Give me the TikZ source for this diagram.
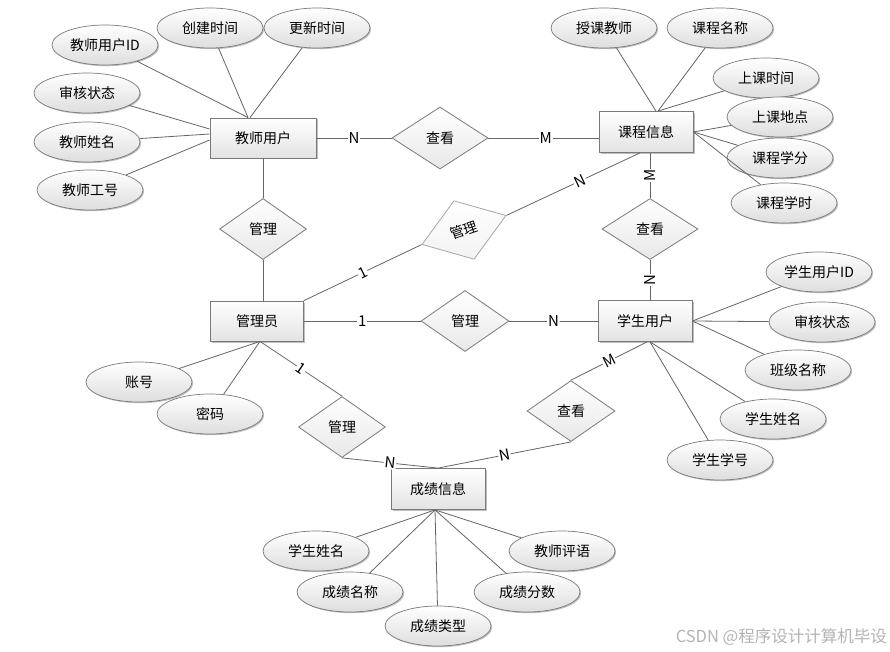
\documentclass[tikz,border=0pt]{standalone}
\usepackage{fontspec}
\setmainfont{Noto Sans CJK SC}
\usetikzlibrary{shapes.geometric,shadows}
\definecolor{lncol}{HTML}{666666}
\definecolor{bdcol}{HTML}{7A7A7A}
\definecolor{wmcol}{HTML}{B4B4B4}
\begin{document}
\begin{tikzpicture}[x=1pt,y=-1pt,
  font=\fontsize{14}{16}\selectfont,
  ent/.style={draw=bdcol, line width=0.8pt, top color=white, bottom color=black!11,
    minimum width=94pt, minimum height=41pt, inner sep=0pt,
    drop shadow={shadow xshift=1.5pt, shadow yshift=-1.5pt, opacity=0.25, fill=black}},
  attr/.style={ellipse, draw=bdcol, line width=0.7pt, top color=white, bottom color=black!13,
    minimum width=106pt, minimum height=40pt, inner sep=0pt,
    drop shadow={shadow xshift=1.2pt, shadow yshift=-1.2pt, opacity=0.25, fill=black}},
  rel/.style={diamond, draw=bdcol, line width=0.8pt, top color=white, bottom color=black!9,
    minimum width=90pt, minimum height=61pt, inner sep=0pt, aspect=1.5},
  ln/.style={draw=lncol, line width=0.8pt},
  card/.style={fill=white, inner sep=0.8pt, font=\fontsize{15}{16}\selectfont}
]
\useasboundingbox[fill=white] (0,0) rectangle (890,652);

% ---------- entities ----------
\node[ent, minimum width=106pt, minimum height=40pt] (tu) at (263,138) {教师用户};
\node[ent] (kc) at (646,132) {课程信息};
\node[ent, minimum width=93pt, minimum height=40pt] (ad) at (257,321) {管理员};
\node[ent] (su) at (645,321) {学生用户};
\node[ent] (cj) at (438,489) {成绩信息};

% ---------- relationships ----------
\node[rel, minimum width=96pt, minimum height=62pt] (cq) at (440,138) {查看};
\node[rel, minimum width=87pt] (gm1) at (263,229) {管理};
\node[rel, rotate=19, minimum width=89pt, minimum height=62pt, draw=black!35, bottom color=black!5] (gm2) at (464,230) {管理};
\node[rel, minimum width=96pt] (cv2) at (650,229) {查看};
\node[rel, minimum width=88pt] (gm3) at (465,321) {管理};
\node[rel, minimum width=87pt] (gm4) at (342,427) {管理};
\node[rel, minimum width=88pt] (cv3) at (571,411) {查看};

% ---------- attributes: teacher ----------
\node[attr] (tid) at (105,45) {教师用户ID};
\node[attr] (tct) at (210,28) {创建时间};
\node[attr] (tut) at (317,28) {更新时间};
\node[attr] (tsh) at (87,93) {审核状态};
\node[attr] (tnm) at (87,142) {教师姓名};
\node[attr] (tno) at (90,190) {教师工号};

% ---------- attributes: course ----------
\node[attr] (kt) at (604,28) {授课教师};
\node[attr] (kn) at (720,28) {课程名称};
\node[attr] (ks) at (766,78) {上课时间};
\node[attr] (kd) at (780,117) {上课地点};
\node[attr] (kf) at (780,158) {课程学分};
\node[attr] (kh) at (784,203) {课程学时};

% ---------- attributes: student ----------
\node[attr] (sid) at (819,272) {学生用户ID};
\node[attr] (ssh) at (822,322) {审核状态};
\node[attr] (sbj) at (798,370) {班级名称};
\node[attr] (snm) at (773,419) {学生姓名};
\node[attr] (sno) at (720,460) {学生学号};

% ---------- attributes: admin ----------
\node[attr] (azh) at (139,382) {账号};
\node[attr] (amm) at (210,414) {密码};

% ---------- attributes: grade ----------
\node[attr] (gsn) at (316,551) {学生姓名};
\node[attr] (gmc) at (350,592) {成绩名称};
\node[attr] (glx) at (438,626) {成绩类型};
\node[attr] (gfs) at (527,592) {成绩分数};
\node[attr] (gpy) at (562,551) {教师评语};

% ---------- attribute connectors ----------
\coordinate (tutop) at ([xshift=-15pt]tu.north);
\draw[ln] (tid) -- (tutop);
\draw[ln] (tct) -- (tutop);
\draw[ln] (tut) -- ([xshift=-13pt]tu.north);
\draw[ln] (tsh) -- ([yshift=9pt]tu.west);
\draw[ln] (tnm) -- ([yshift=4pt]tu.west);
\draw[ln] (tno) -- ([yshift=-2pt]tu.west);

\draw[ln] (kt) -- ([xshift=10pt]kc.north);
\draw[ln] (kn) -- ([xshift=12pt]kc.north);
\draw[ln] (ks) -- ([xshift=12pt]kc.north);
\draw[ln] (kd) -- (kc.east);
\draw[ln] (kf) -- (kc.east);
\draw[ln] (kh) -- (kc.east);

\draw[ln] (sid) -- (su.east);
\draw[ln] (ssh) -- (su.east);
\draw[ln] (sbj) -- (su.east);
\draw[ln] (snm) -- ([xshift=5pt]su.south);
\draw[ln] (sno) -- ([xshift=5pt]su.south);

\draw[ln] (azh) -- ([xshift=3pt]ad.south);
\draw[ln] (amm) -- ([xshift=3pt]ad.south);

\coordinate (cjb) at ([xshift=-3pt]cj.south);
\draw[ln] (gsn) -- (cjb);
\draw[ln] (gmc) -- (cjb);
\draw[ln] (glx) -- (cjb);
\draw[ln] (gfs) -- (cjb);
\draw[ln] (gpy) -- (cjb);

% ---------- relationship connectors ----------
\draw[ln] (tu.east) -- node[card]{N} (cq.west);
\draw[ln] (cq.east) -- node[card, pos=0.52]{M} (cq.east -| kc.west);

\draw[ln] (gm1.north |- tu.south) -- (gm1.north);
\draw[ln] (gm1.south) -- (gm1.south |- ad.north);

\draw[ln] (ad.north east) -- node[card, sloped]{1} (gm2.west);
\draw[ln] (gm2.east) -- node[card, sloped, pos=0.55]{N} ([xshift=-6pt]kc.south);

\draw[ln] (cv2.north |- kc.south) -- node[card, rotate=90]{M} (cv2.north);
\draw[ln] (cv2.south) -- node[card, rotate=90]{N} (cv2.south |- su.north);

\draw[ln] (ad.east) -- node[card]{1} (gm3.west);
\draw[ln] (gm3.east) -- node[card]{N} (su.west);

\draw[ln] ([xshift=3pt]ad.south) -- node[card, sloped]{1} (gm4.north);
\draw[ln] (gm4.south) -- node[card, sloped]{N} (cj.north);

\draw[ln] (cv3.north) -- node[card, sloped]{M} ([xshift=2pt]su.south);
\draw[ln] (cv3.south) -- node[card, sloped]{N} (cj.north);

% ---------- watermark ----------
\node[anchor=east, text=wmcol, inner sep=0pt, font=\fontsize{16.5}{18}\selectfont] (wm) at (887,637) {CSDN @程序设计计算机毕设};
\end{tikzpicture}
\end{document}
